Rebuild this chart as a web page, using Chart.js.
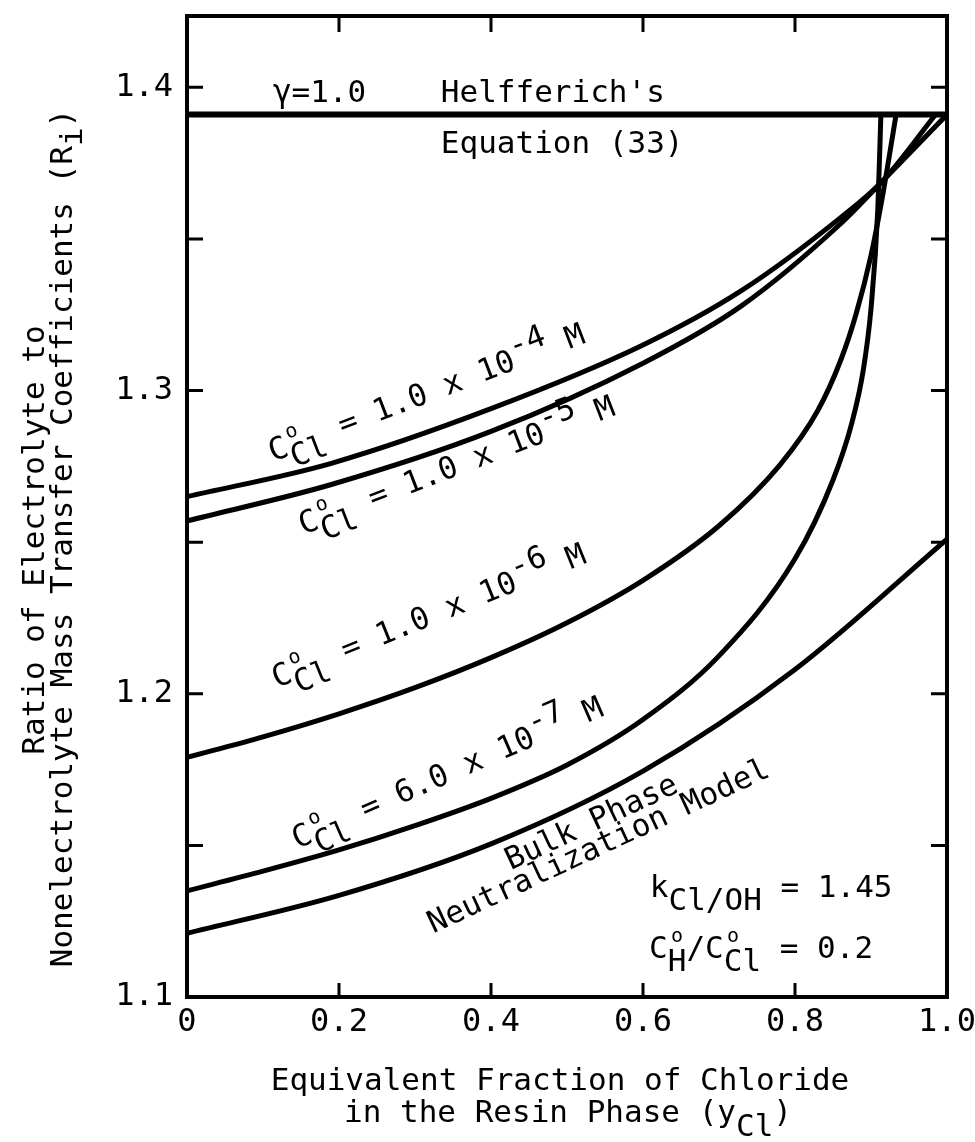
<!DOCTYPE html>
<html>
<head>
<meta charset="utf-8">
<script src="https://cdn.jsdelivr.net/npm/chart.js@4.4.0/dist/chart.umd.min.js"></script>
<style>
  html, body { margin: 0; padding: 0; background: #fff; }
  #wrap { width: 975px; height: 1142px; position: relative; }
</style>
</head>
<body>
<div id="wrap"><canvas id="chart"></canvas></div>
<script>
// values
const xTickValues = [0, 0.2, 0.4, 0.6, 0.8, 1.0];
const xTickLabels = ["0", "0.2", "0.4", "0.6", "0.8", "1.0"];
const yTickValues = [1.1, 1.2, 1.3, 1.4];
const yTickLabels = ["1.1", "1.2", "1.3", "1.4"];
const yMarkValues = [1.15, 1.2, 1.25, 1.3, 1.35, 1.4];
const xMarkValues = [0.2, 0.4, 0.6, 0.8];

const helfX = [0, 1.0];
const helfY = [1.391, 1.391];
const c4X = [0, 0.19, 0.4, 0.6, 0.73, 0.86, 0.915, 0.985];
const c4Y = [1.265, 1.276, 1.294, 1.315, 1.333, 1.357, 1.369, 1.391];
const c5X = [0, 0.19, 0.4, 0.6, 0.73, 0.86, 0.915, 1.0];
const c5Y = [1.257, 1.269, 1.2865, 1.309, 1.328, 1.355, 1.369, 1.391];
const c6X = [0, 0.1, 0.2, 0.3, 0.4, 0.5, 0.6, 0.7, 0.78, 0.83, 0.86, 0.88, 0.9, 0.916, 0.933];
const c6Y = [1.179, 1.1858, 1.1934, 1.202, 1.2119, 1.2234, 1.2374, 1.2554, 1.2754, 1.2934, 1.3099, 1.3249, 1.3445, 1.3653, 1.391];
const c7X = [0, 0.1, 0.2, 0.3, 0.4, 0.5, 0.6, 0.7, 0.8, 0.85, 0.875, 0.89, 0.9, 0.909, 0.913];
const c7Y = [1.135, 1.1415, 1.1485, 1.1565, 1.1655, 1.1765, 1.1915, 1.2125, 1.2445, 1.2705, 1.2895, 1.307, 1.327, 1.36, 1.391];
const bulkX = [0, 0.2, 0.4, 0.6, 0.8, 1.0];
const bulkY = [1.121, 1.1335, 1.1505, 1.1745, 1.208, 1.251];

const FONT = "'DejaVu Sans Mono', monospace";
const FS = 31;

function pts(xs, ys) {
    return xs.map((x, i) => ({ x: x, y: ys[i] }));
}

function curve(xs, ys, width) {
    return {
        data: pts(xs, ys),
        borderColor: "#000",
        borderWidth: width,
        pointRadius: 0,
        cubicInterpolationMode: "monotone",
        fill: false
    };
}

// typewriter style: C with small raised "o" over a lowered subscript
function cOver(sub) {
    return [{ t: "C" }, { t: "o", dy: -16, small: true, over: true }, { t: sub, dy: 13 }];
}

const labels = [
    { at: [0.113, 1.3952], rot: 0, parts: [{ t: "\u03b3=1.0" }] },
    { at: [0.334, 1.3952], rot: 0, parts: [{ t: "Helfferich's" }] },
    { at: [0.334, 1.3784], rot: 0, parts: [{ t: "Equation (33)" }] },
    { at: [0.113, 1.2765], rot: -20.8, parts: [...cOver("Cl"), { t: " = 1.0 x 10" }, { t: "-4", dy: -13 }, { t: " M" }] },
    { at: [0.153, 1.2524], rot: -21, parts: [...cOver("Cl"), { t: " = 1.0 x 10" }, { t: "-5", dy: -13 }, { t: " M" }] },
    { at: [0.118, 1.2019], rot: -22, parts: [...cOver("Cl"), { t: " = 1.0 x 10" }, { t: "-6", dy: -13 }, { t: " M" }] },
    { at: [0.145, 1.1488], rot: -23.5, parts: [...cOver("Cl"), { t: " = 6.0 x 10" }, { t: "-7", dy: -13 }, { t: " M" }] },
    { at: [0.426, 1.1418], rot: -25, parts: [{ t: "Bulk Phase" }] },
    { at: [0.324, 1.1209], rot: -25, parts: [{ t: "Neutralization Model" }] },
    { at: [0.609, 1.133], rot: 0, parts: [{ t: "k" }, { t: "Cl/OH", dy: 13 }, { t: " = 1.45" }] },
    { at: [0.608, 1.1129], rot: 0, parts: [...cOver("H"), { t: "/" }, ...cOver("Cl"), { t: " = 0.2" }] }
];

function partsWidth(ctx, parts) {
    let w = 0;
    ctx.font = FS + "px " + FONT;
    parts.forEach(p => {
        if (!p.over) w += ctx.measureText(p.t).width;
    });
    return w;
}

function drawRich(ctx, x, y, angle, parts) {
    ctx.save();
    ctx.translate(x, y);
    ctx.rotate(angle * Math.PI / 180);
    ctx.fillStyle = "#000";
    ctx.textBaseline = "alphabetic";
    ctx.textAlign = "left";
    let cx = 0;
    parts.forEach(p => {
        if (p.small) {
            ctx.font = FS + "px " + FONT;
            const cw = ctx.measureText("C").width;
            ctx.font = Math.round(FS * 0.65) + "px " + FONT;
            const sw = ctx.measureText(p.t).width;
            ctx.fillText(p.t, cx + (cw - sw) / 2, p.dy || 0);
        } else {
            ctx.font = FS + "px " + FONT;
            ctx.fillText(p.t, cx, p.dy || 0);
        }
        if (!p.over) {
            ctx.font = FS + "px " + FONT;
            cx += ctx.measureText(p.t).width;
        }
    });
    ctx.restore();
}

const framePlugin = {
    id: "framePlugin",
    afterDatasetsDraw(chart) {
        const ctx = chart.ctx;
        const a = chart.chartArea;
        const xs = chart.scales.x;
        const ys = chart.scales.y;

        ctx.save();
        ctx.strokeStyle = "#000";
        ctx.lineWidth = 4;
        ctx.lineJoin = "miter";
        ctx.strokeRect(a.left, a.top, a.right - a.left, a.bottom - a.top);

        ctx.lineWidth = 3;
        ctx.beginPath();
        yMarkValues.forEach(v => {
            const py = ys.getPixelForValue(v);
            ctx.moveTo(a.left, py);
            ctx.lineTo(a.left + 16, py);
            ctx.moveTo(a.right, py);
            ctx.lineTo(a.right - 16, py);
        });
        xMarkValues.forEach(v => {
            const px = xs.getPixelForValue(v);
            ctx.moveTo(px, a.bottom);
            ctx.lineTo(px, a.bottom - 14);
            ctx.moveTo(px, a.top);
            ctx.lineTo(px, a.top + 16);
        });
        ctx.stroke();
        ctx.restore();

        labels.forEach(l => {
            drawRich(ctx, xs.getPixelForValue(l.at[0]), ys.getPixelForValue(l.at[1]), l.rot, l.parts);
        });

        // axis titles
        const xt1 = [{ t: "Equivalent Fraction of Chloride" }];
        const xt2 = [{ t: "in the Resin Phase (y" }, { t: "Cl", dy: 14 }, { t: ")" }];
        drawRich(ctx, 560 - partsWidth(ctx, xt1) / 2, 1090, 0, xt1);
        drawRich(ctx, 568 - partsWidth(ctx, xt2) / 2, 1122, 0, xt2);

        const yt1 = [{ t: "Ratio of Electrolyte to" }];
        const yt2 = [{ t: "Nonelectrolyte Mass Transfer Coefficients (R" }, { t: "i", dy: 10 }, { t: ")" }];
        drawRich(ctx, 44, 540 + partsWidth(ctx, yt1) / 2, -90, yt1);
        drawRich(ctx, 72, 538 + partsWidth(ctx, yt2) / 2, -90, yt2);
    }
};

new Chart(document.getElementById("chart").getContext("2d"), {
    type: "line",
    data: {
        datasets: [
            curve(helfX, helfY, 6),
            curve(c4X, c4Y, 5),
            curve(c5X, c5Y, 5),
            curve(c6X, c6Y, 5),
            curve(c7X, c7Y, 5),
            curve(bulkX, bulkY, 5)
        ]
    },
    options: {
        responsive: true,
        maintainAspectRatio: false,
        devicePixelRatio: 1,
        animation: false,
        layout: { padding: { top: 16, right: 28, left: 0, bottom: 0 } },
        plugins: {
            legend: { display: false },
            tooltip: { enabled: false }
        },
        scales: {
            x: {
                type: "linear",
                min: 0,
                max: 1.0,
                afterBuildTicks: (scale) => {
                    scale.ticks = xTickValues.map(v => ({ value: v }));
                },
                afterFit: (scale) => {
                    scale.height = 145;
                    scale.paddingLeft = 0;
                    scale.paddingRight = 0;
                },
                ticks: {
                    color: "#000",
                    padding: 6,
                    maxRotation: 0,
                    font: { family: FONT, size: 32 },
                    callback: (value, index) => xTickLabels[index]
                },
                grid: { display: false, drawTicks: false },
                border: { display: false }
            },
            y: {
                type: "linear",
                min: 1.1,
                max: 1.4235,
                afterBuildTicks: (scale) => {
                    scale.ticks = yTickValues.map(v => ({ value: v }));
                },
                afterFit: (scale) => {
                    scale.width = 187;
                    scale.paddingTop = 0;
                    scale.paddingBottom = 0;
                },
                ticks: {
                    color: "#000",
                    padding: 14,
                    font: { family: FONT, size: 32 },
                    callback: (value, index) => yTickLabels[index]
                },
                grid: { display: false, drawTicks: false },
                border: { display: false }
            }
        }
    },
    plugins: [framePlugin]
});
</script>
</body>
</html>
